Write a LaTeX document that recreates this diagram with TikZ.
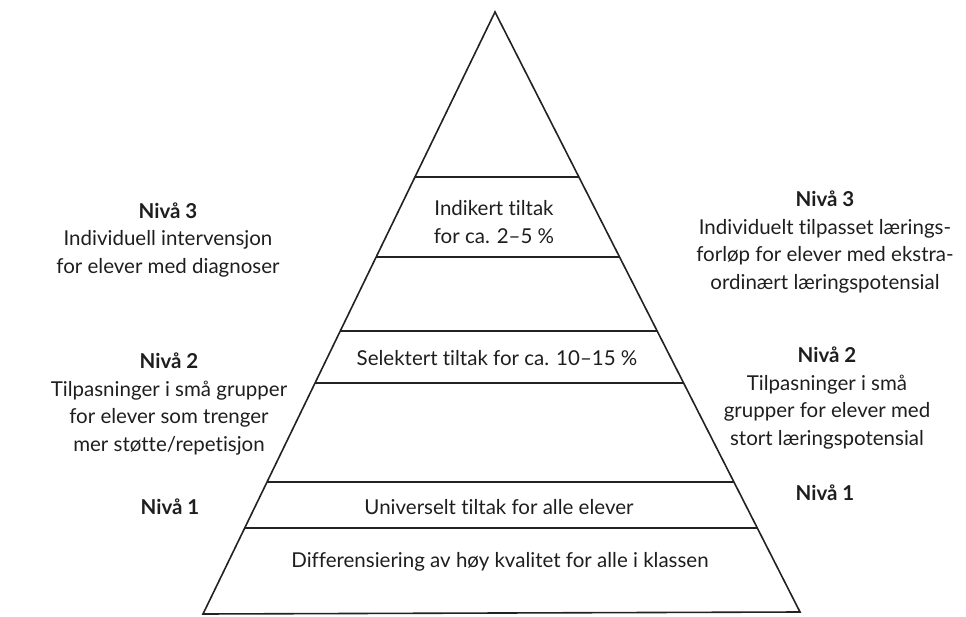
\documentclass[tikz,border=0pt]{standalone}
\usepackage{fontspec}
\setmainfont{Lato}[Ligatures=NoCommon]
\usetikzlibrary{calc}
\definecolor{ink}{HTML}{222222}
\definecolor{txt}{HTML}{1E1E1E}
\tikzset{
  x=1pt, y=-1pt,
  edge/.style={draw=ink, line width=1.6pt, line join=miter},
  band/.style={draw=ink, line width=1.6pt},
  lbl/.style={text=txt, align=center, inner sep=0pt, font=\fontsize{20.5}{27.5}\selectfont},
}
\begin{document}
\begin{tikzpicture}
\useasboundingbox (0,0) rectangle (966,617);
\coordinate (A) at (495,12);
\coordinate (BL) at (203,614);
\coordinate (BR) at (800,612);
\draw[edge] (A) -- (BL) -- (BR) -- cycle;
% band lines
\foreach \n/\yy in {l1/177, l2/257, l3/331, l4/383, l5/482, l6/528} {
  \pgfmathsetmacro{\tl}{(\yy-12)/602}
  \pgfmathsetmacro{\tr}{(\yy-12)/600}
  \coordinate (\n L) at ($(A)!\tl!(BL)$);
  \coordinate (\n R) at ($(A)!\tr!(BR)$);
  \draw[band] (\n L) -- (\n R);
}
% texts inside pyramid
\node[lbl] (t1) at (494,222) {Indikert tiltak\\for ca. 2–5 \%};
\node[lbl] (t2) at (497,358) {Selektert tiltak for ca. 10–15 \%};
\node[lbl] (t3) at (499,507) {Universelt tiltak for alle elever};
\node[lbl] (t4) at (500,562) {Differensiering av høy kvalitet for alle i klassen};
% left labels
\node[lbl] (L3) at (168,240) {\textbf{Nivå 3}\\Individuell intervensjon\\for elever med diagnoser};
\node[lbl] (L2) at (169,404) {\textbf{Nivå 2}\\Tilpasninger i små grupper\\for elever som trenger\\mer støtte/repetisjon};
\node[lbl] (L1) at (170,507) {\textbf{Nivå 1}};
% right labels
\node[lbl] (R3) at (825,242) {\textbf{Nivå 3}\\Individuelt tilpasset lærings-\\forløp for elever med ekstra-\\ordinært læringspotensial};
\node[lbl] (R2) at (827,398) {\textbf{Nivå 2}\\Tilpasninger i små\\grupper for elever med\\stort læringspotensial};
\node[lbl] (R1) at (825,493) {\textbf{Nivå 1}};
\end{tikzpicture}
\end{document}
